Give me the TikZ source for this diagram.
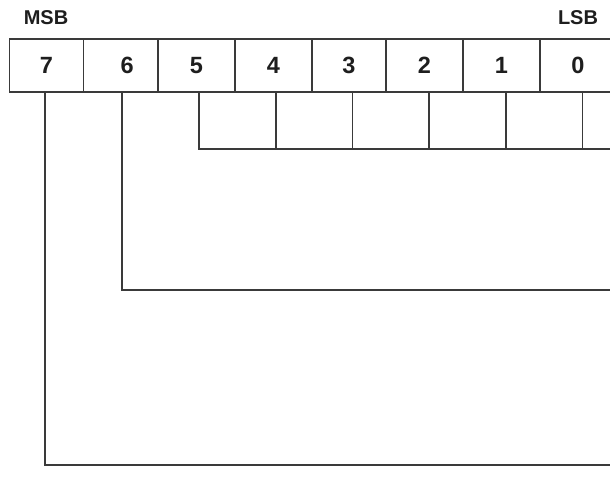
\documentclass[tikz,border=0pt]{standalone}
\usepackage{fontspec}
\setmainfont{Liberation Sans}
\definecolor{regline}{RGB}{58,58,58}
\definecolor{regtext}{RGB}{30,30,30}
\begin{document}
\begin{tikzpicture}[
		x=1pt, y=-1pt,
		bitcell/.style={rectangle, draw=regline, line width=1.5pt, text=regtext,
			font=\fontsize{23.5}{23.5}\selectfont\bfseries, inner sep=0pt,
			minimum height=53pt},
		endlabel/.style={text=regtext, font=\fontsize{20}{20}\selectfont\bfseries, inner sep=0pt},
		wire/.style={draw=regline, line width=1.5pt}
	]
		\clip (0,0) rectangle (610,498);
		% MSB / LSB
		\node[endlabel] (msb) at (46,18) {MSB};
		\node[endlabel] (lsb) at (578,18) {LSB};
		% register, bit 7 ... bit 0
		\node[bitcell, minimum width=74pt] (b7) at (46.3,65.7) {7};
		\node[bitcell, minimum width=74.7pt] (b6) at (120.7,65.7) {\hphantom{0}6};
		\node[bitcell, minimum width=77pt] (b5) at (196.5,65.7) {5};
		\node[bitcell, minimum width=76.7pt] (b4) at (273.3,65.7) {4};
		\node[bitcell, minimum width=74.3pt] (b3) at (349,65.7) {3};
		\node[bitcell, minimum width=76.7pt] (b2) at (424.3,65.7) {2};
		\node[bitcell, minimum width=77.3pt] (b1) at (501.5,65.7) {1};
		\node[bitcell, minimum width=76pt] (b0) at (578,65.7) {0};
		% drop points
		\coordinate (d7) at (45,465);
		\coordinate (d6) at (122,290);
		\coordinate (d5) at (199,149);
		\coordinate (d4) at (276,149);
		\coordinate (d3) at (352.7,149);
		\coordinate (d2) at (429,149);
		\coordinate (d1) at (506,149);
		\coordinate (d0) at (582.7,149);
		% free ends at the right edge
		\coordinate (e5) at (620,149);
		\coordinate (e6) at (620,290);
		\coordinate (e7) at (620,465);
		% bits 5..0 grouped
		\draw[wire] (b5.south -| d5) -- (d5) -- (e5);
		\draw[wire] (b4.south -| d4) -- (d4);
		\draw[wire] (b3.south -| d3) -- (d3);
		\draw[wire] (b2.south -| d2) -- (d2);
		\draw[wire] (b1.south -| d1) -- (d1);
		\draw[wire] (b0.south -| d0) -- (d0);
		% bit 6
		\draw[wire] (b6.south -| d6) -- (d6) -- (e6);
		% bit 7
		\draw[wire] (b7.south -| d7) -- (d7) -- (e7);
	\end{tikzpicture}
\end{document}
